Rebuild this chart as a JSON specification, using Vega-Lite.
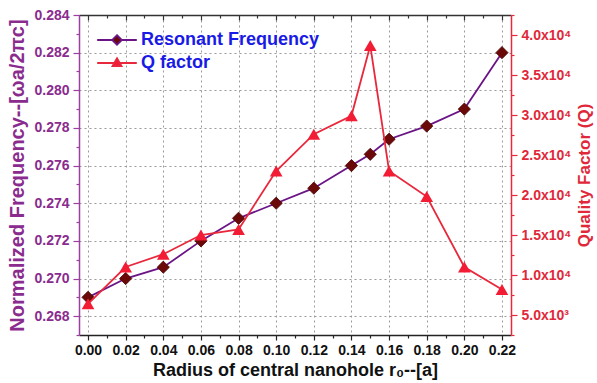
{
  "$schema": "https://vega.github.io/schema/vega-lite/v6.json",
  "width": 432,
  "height": 320,
  "autosize": "none",
  "padding": {"left": 79, "top": 15, "right": 86, "bottom": 48},
  "background": "white",
  "config": {
    "view": {"stroke": null},
    "font": "Liberation Sans",
    "axis": {"labelFont": "Liberation Sans", "titleFont": "Liberation Sans", "labelFontWeight": "bold", "titleFontWeight": "bold", "labelOverlap": false, "labelFlush": false}
  },
  "data": {
    "values": [
      {"r": 0.00, "freq": 0.2690, "q": 6400},
      {"r": 0.02, "freq": 0.2700, "q": 11000},
      {"r": 0.04, "freq": 0.2706, "q": 12600},
      {"r": 0.06, "freq": 0.2720, "q": 15000},
      {"r": 0.08, "freq": 0.2732, "q": 15700},
      {"r": 0.10, "freq": 0.2740, "q": 23000},
      {"r": 0.12, "freq": 0.2748, "q": 27600},
      {"r": 0.14, "freq": 0.2760, "q": 29900},
      {"r": 0.15, "freq": 0.2766, "q": 38700},
      {"r": 0.16, "freq": 0.2774, "q": 23000},
      {"r": 0.18, "freq": 0.2781, "q": 19800},
      {"r": 0.20, "freq": 0.2790, "q": 11000},
      {"r": 0.22, "freq": 0.2820, "q": 8200}
    ]
  },
  "resolve": {"scale": {"y": "independent"}, "axis": {"x": "independent"}},
  "layer": [
    {
      "mark": {"type": "line", "color": "#6A1486", "strokeWidth": 1.8},
      "encoding": {
        "x": {
          "field": "r", "type": "quantitative",
          "scale": {"domain": [-0.0048, 0.2248], "nice": false, "zero": false},
          "axis": {
            "orient": "bottom",
            "values": [0, 0.01, 0.02, 0.03, 0.04, 0.05, 0.06, 0.07, 0.08, 0.09, 0.1, 0.11, 0.12, 0.13, 0.14, 0.15, 0.16, 0.17, 0.18, 0.19, 0.2, 0.21, 0.22],
            "labelExpr": "round(datum.value * 100) % 2 == 0 ? format(datum.value, '.2f') : ''",
            "labelFontSize": 14, "labelColor": "#111111", "labelPadding": 3,
            "tickSize": {"condition": {"test": "round(datum.value * 100) % 2 == 0", "value": 5}, "value": 3},
            "tickColor": "#222222", "tickWidth": 1.2,
            "domainColor": "#222222", "domainWidth": 1.5,
            "grid": true, "gridColor": "#9a9a9a", "gridDash": [2, 3], "gridWidth": 1,
            "gridOpacity": {"condition": {"test": "round(datum.value * 100) % 2 == 0", "value": 1}, "value": 0},
            "title": "Radius of central nanohole r₀--[a]",
            "titleFontSize": 18, "titleColor": "#111111", "titlePadding": 4
          }
        },
        "y": {
          "field": "freq", "type": "quantitative",
          "scale": {"domain": [0.267, 0.284], "nice": false, "zero": false},
          "axis": {
            "orient": "left",
            "values": [0.267, 0.268, 0.269, 0.27, 0.271, 0.272, 0.273, 0.274, 0.275, 0.276, 0.277, 0.278, 0.279, 0.28, 0.281, 0.282, 0.283, 0.284],
            "labelExpr": "round(datum.value * 1000) % 2 == 0 ? format(datum.value, '.3f') : ''",
            "labelFontSize": 14, "labelColor": "#8A2B8E", "labelPadding": 4,
            "tickSize": {"condition": {"test": "round(datum.value * 1000) % 2 == 0", "value": 6}, "value": 3},
            "tickColor": "#9B3FA0", "tickWidth": 1.2,
            "domainColor": "#9B3FA0", "domainWidth": 1.5,
            "grid": true, "gridColor": "#9a9a9a", "gridDash": [2, 3], "gridWidth": 1,
            "gridOpacity": {"condition": {"test": "round(datum.value * 1000) % 2 == 0", "value": 1}, "value": 0},
            "title": "Normalized Frequency--[ωa/2πc]",
            "titleFontSize": 20, "titleColor": "#8A2B8E", "titlePadding": 6
          }
        }
      }
    },
    {
      "mark": {"type": "point", "shape": "diamond", "filled": true, "color": "#6B0808", "opacity": 1, "size": 150, "stroke": "#4A0505", "strokeWidth": 0.8},
      "encoding": {
        "x": {"field": "r", "type": "quantitative", "scale": {"domain": [-0.0048, 0.2248], "nice": false, "zero": false}, "axis": null},
        "y": {"field": "freq", "type": "quantitative", "scale": {"domain": [0.267, 0.284], "nice": false, "zero": false}, "axis": null}
      }
    },
    {
      "mark": {"type": "line", "color": "#E8283C", "strokeWidth": 1.8},
      "encoding": {
        "x": {
          "field": "r", "type": "quantitative",
          "scale": {"domain": [-0.0048, 0.2248], "nice": false, "zero": false},
          "axis": {
            "orient": "top",
            "values": [0, 0.01, 0.02, 0.03, 0.04, 0.05, 0.06, 0.07, 0.08, 0.09, 0.1, 0.11, 0.12, 0.13, 0.14, 0.15, 0.16, 0.17, 0.18, 0.19, 0.2, 0.21, 0.22],
            "labels": false,
            "tickSize": {"condition": {"test": "round(datum.value * 100) % 2 == 0", "value": -5}, "value": -3},
            "tickColor": "#333333", "tickWidth": 1.2,
            "domainColor": "#333333", "domainWidth": 1.5,
            "grid": false, "title": null
          }
        },
        "y": {
          "field": "q", "type": "quantitative",
          "scale": {"domain": [2500, 42500], "nice": false, "zero": false},
          "axis": {
            "orient": "right",
            "values": [2500, 5000, 7500, 10000, 12500, 15000, 17500, 20000, 22500, 25000, 27500, 30000, 32500, 35000, 37500, 40000, 42500],
            "labelExpr": "round(datum.value / 2500) % 2 == 1 ? '' : (datum.value < 10000 ? format(datum.value / 1000, '.1f') + 'x10³' : format(datum.value / 10000, '.1f') + 'x10⁴')",
            "labelFontSize": 14, "labelColor": "#E0283A", "labelPadding": 4,
            "tickSize": {"condition": {"test": "round(datum.value / 2500) % 2 == 0", "value": 6}, "value": 3},
            "tickColor": "#E8283C", "tickWidth": 1.2,
            "domainColor": "#E8283C", "domainWidth": 1.5,
            "grid": false,
            "title": "Quality Factor (Q)",
            "titleAngle": 270,
            "titleBaseline": "top",
            "titleFontSize": 17, "titleColor": "#E0283A", "titlePadding": 6
          }
        }
      }
    },
    {
      "mark": {"type": "point", "shape": "triangle-up", "filled": true, "color": "#F21C34", "opacity": 1, "size": 160},
      "encoding": {
        "x": {"field": "r", "type": "quantitative", "scale": {"domain": [-0.0048, 0.2248], "nice": false, "zero": false}, "axis": null},
        "y": {"field": "q", "type": "quantitative", "scale": {"domain": [2500, 42500], "nice": false, "zero": false}, "axis": null}
      }
    },
    {
      "transform": [{"filter": "false"}],
      "mark": {"type": "point", "filled": true},
      "encoding": {
        "x": {"field": "r", "type": "quantitative", "scale": {"domain": [-0.0048, 0.2248], "nice": false, "zero": false}, "axis": null},
        "y": {"field": "freq", "type": "quantitative", "scale": {"domain": [0.267, 0.284], "nice": false, "zero": false}, "axis": null},
        "shape": {
          "datum": "Resonant Frequency", "type": "nominal",
          "scale": {"domain": ["Resonant Frequency", "Q factor"], "range": ["M-3.3,0H-0.8M0.8,0H3.3M0,-0.8L0.8,0L0,0.8L-0.8,0Z", "M-3.3,0H-0.55M0.55,0H3.3M0,-0.8L0.75,0.5L-0.75,0.5Z"]},
          "legend": {"title": null, "orient": "none", "legendX": 29, "legendY": 16, "padding": 0, "symbolSize": 144, "symbolStrokeWidth": 1.8, "symbolOpacity": 1, "labelOffset": 15, "labelLimit": 400, "labelFontSize": 18, "labelFont": "Liberation Sans", "labelFontWeight": "bold", "labelColor": "#1A1AE6", "rowPadding": 5}
        },
        "fill": {
          "datum": "Resonant Frequency", "type": "nominal",
          "scale": {"domain": ["Resonant Frequency", "Q factor"], "range": ["#6B0808", "#F21C34"]},
          "legend": {"title": null, "orient": "none", "legendX": 29, "legendY": 16, "padding": 0, "symbolSize": 144, "symbolStrokeWidth": 1.8, "symbolOpacity": 1, "labelOffset": 15, "labelLimit": 400, "labelFontSize": 18, "labelFont": "Liberation Sans", "labelFontWeight": "bold", "labelColor": "#1A1AE6", "rowPadding": 5}
        },
        "stroke": {
          "datum": "Resonant Frequency", "type": "nominal",
          "scale": {"domain": ["Resonant Frequency", "Q factor"], "range": ["#6A1486", "#E8283C"]},
          "legend": {"title": null, "orient": "none", "legendX": 29, "legendY": 16, "padding": 0, "symbolSize": 144, "symbolStrokeWidth": 1.8, "symbolOpacity": 1, "labelOffset": 15, "labelLimit": 400, "labelFontSize": 18, "labelFont": "Liberation Sans", "labelFontWeight": "bold", "labelColor": "#1A1AE6", "rowPadding": 5}
        }
      }
    }
  ]
}
